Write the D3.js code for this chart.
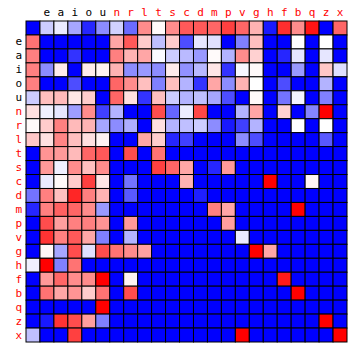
<!DOCTYPE html>
<html lang="en">
<head>
<meta charset="UTF-8">
<title>Letter matrix</title>
<style>
  body { margin: 0; background: #fff; }
  svg text { font-family: "DejaVu Sans Mono", monospace; font-size: 11px; }
</style>
</head>
<body>
<svg id="chart"></svg>
<script src="https://cdn.jsdelivr.net/npm/d3@7"></script>
<script>
const letters = ["", "e", "a", "i", "o", "u", "n", "r", "l", "t", "s", "c", "d", "m", "p", "v", "g", "h", "f", "b", "q", "z", "x"];
const vowels = ["e", "a", "i", "o", "u"];

// one row per letter, -1 = blue, 0 = white, 1 = red
const values = [
  [-1, -0.2, -0.08, -0.35, -0.85, -0.45, -0.18, -0.58, 0.45, 0.02, 0.45, 0.65, 0.65, 0.6, 0.75, 0.6, 0.3, -0.9, 0.82, 0.45, 0.92, -1, 0.6],
  [0.55, -1, -1, -1, -1, -1, 0.35, 0.65, 0.2, -0.25, 0.2, -0.7, -0.1, -0.12, -1, -0.5, 0.25, -1, -1, 0, -1, 0, -1],
  [0.5, -1, -1, -0.8, -1, -1, 0.5, 0.3, 0.35, -0.02, -0.2, -0.27, -0.4, 0.02, -0.3, 0.45, 0.18, -1, -0.85, -0.1, -1, -0.1, -1],
  [0.5, -0.45, 0.08, -1, 0.08, 0.05, 0.3, -0.45, -0.4, -0.45, 0.08, -0.43, -0.28, 0.1, -0.8, -0.03, 0.02, -1, -1, -0.4, -1, 0.22, -0.12],
  [0.5, -1, -1, -0.7, -1, -1, 0.6, 0.45, 0.25, -0.5, 0.25, -0.3, -0.8, 0.35, -0.45, 0.3, 0, -1, -0.7, -1, -1, -0.3, -1],
  [-0.2, 0.25, 0.27, 0.1, 0.2, -1, 0.6, 0.12, -0.8, 0.25, -0.2, -0.3, -0.25, -0.35, -0.7, -1, 0.02, -1, -0.55, -0.04, -1, -0.5, -1],
  [0.12, -0.06, -0.1, -0.38, 0.45, -0.75, -0.3, -1, -1, 0.7, -0.6, -0.07, 0.72, -1, -1, -0.3, 0.35, -1, 0.18, -1, -0.48, 1, -1],
  [0.02, 0.2, 0.5, 0.27, 0.3, -0.35, -0.45, -0.32, -1, 0.12, -0.3, -0.25, -0.2, -0.45, -0.9, -0.75, -0.3, -1, -1, 0, -1, 0, -1],
  [0.22, 0.12, 0.48, 0.25, 0.12, 0.05, -1, -1, 0.35, 0.2, -0.85, -0.75, -1, -1, -1, -0.45, -0.7, -1, -1, -1, -1, -0.65, -1],
  [-1, 0.42, 0.4, 0.27, 0.6, 0.65, -1, 0.7, -1, 0.55, -1, -1, -1, -1, -1, -1, -1, -1, -1, -1, -1, -1, -1],
  [-1, 0.4, -0.06, 0.45, 0.25, 0.45, -1, -1, -1, 0.75, 0.6, 0.35, -1, -0.85, 0.4, -1, -1, -1, -1, -1, -1, -1, -1],
  [-1, -0.08, 0.02, 0.2, 0.75, 0.1, -1, -0.55, -1, -1, -1, 0.3, -1, -1, -1, -1, -1, 1, -1, -1, 0.04, -1, -1],
  [-0.55, 0.5, 0.25, 0.85, 0.5, 0.3, -1, -0.65, -1, -1, -1, -1, -0.88, -1, -1, -1, -1, -1, -1, -1, -1, -1, -1],
  [-0.85, 0.5, 0.62, 0.6, 0.45, -0.4, -1, -1, -1, -1, -1, -1, -1, 0.5, 0.35, -1, -1, -1, -1, 1, -1, -1, -1],
  [-1, 0.7, 0.38, 0.5, 0.5, 0.42, -1, 0.4, -1, -1, -1, -1, -1, -1, 0.38, -1, -1, -1, -1, -1, -1, -1, -1],
  [-1, 0.8, 0.5, 0.65, 0.35, -0.5, -1, -0.3, -1, -1, -1, -1, -1, -1, -1, -0.08, -1, -1, -1, -1, -1, -1, -1],
  [-1, 0.03, -0.35, 0.7, -0.12, 0.7, 0.55, 0.45, 0.37, -1, -1, -1, -1, -1, -1, -1, 1, 0.35, -1, -1, -1, -1, -1],
  [-0.06, 1, -0.5, 0.55, -1, -1, -1, -1, -1, -1, -1, -1, -1, -1, -1, -1, -1, -1, -1, -1, -1, -1, -1],
  [-1, 0.4, 0.6, 0.45, 0.45, 1, -1, 0.05, -1, -1, -1, -1, -1, -1, -1, -1, -1, -1, 0.9, -1, -1, -1, -1],
  [-1, 0.55, 0.35, 0.42, 0.2, 0.55, -1, 0.7, -1, -1, -1, -1, -1, -1, -1, -1, -1, -1, -1, 1, -1, -1, -1],
  [-1, -1, -1, -1, -1, 1, -1, -1, -1, -1, -1, -1, -1, -1, -1, -1, -1, -1, -1, -1, -1, -1, -1],
  [-1, -0.9, 0.8, 0.7, 0.38, -0.5, -1, -1, -1, -1, -1, -1, -1, -1, -1, -1, -1, -1, -1, -1, -1, 1, -1],
  [-0.25, -1, -1, 0.75, -1, -1, -1, -1, -1, -1, -1, -1, -1, -1, -1, 1, -1, -1, -1, -1, -1, -1, 1]
];

const width = 360, height = 360;
const margin = { top: 21, left: 26, right: 13, bottom: 18 };

const svg = d3.select('#chart').attr('width', width).attr('height', height);

const idx = d3.range(letters.length);
const x = d3.scaleBand().domain(idx).range([margin.left, width - margin.right]);
const y = d3.scaleBand().domain(idx).range([margin.top, height - margin.bottom]);

const color = d3.scaleLinear()
    .domain([-1, 0, 1])
    .range(['blue', 'white', 'red']);

const cells = [];
values.forEach((row, i) => row.forEach((v, j) => cells.push({ i, j, v })));

svg.append('g')
    .selectAll('rect')
    .data(cells)
    .enter()
    .append('rect')
    .attr('x', d => x(d.j))
    .attr('y', d => y(d.i))
    .attr('width', x.bandwidth())
    .attr('height', y.bandwidth())
    .attr('fill', d => color(d.v))
    .attr('stroke', 'black')
    .attr('stroke-width', 1);

const labelColor = i => vowels.includes(letters[i]) ? 'black' : 'red';

const topAxis = svg.append('g')
    .attr('transform', `translate(0,${margin.top - 5})`)
    .call(d3.axisTop(x).tickSize(0).tickFormat(i => letters[i]));
topAxis.select('.domain').remove();
topAxis.selectAll('text')
    .attr('y', 0)
    .attr('fill', labelColor)
    .style('font-size', '11px')
    .style('font-family', '"DejaVu Sans Mono", monospace');

const leftAxis = svg.append('g')
    .attr('transform', `translate(${margin.left - 4},0)`)
    .call(d3.axisLeft(y).tickSize(0).tickFormat(i => letters[i]));
leftAxis.select('.domain').remove();
leftAxis.selectAll('text')
    .attr('x', 0)
    .attr('fill', labelColor)
    .style('font-size', '11px')
    .style('font-family', '"DejaVu Sans Mono", monospace');
</script>
</body>
</html>
